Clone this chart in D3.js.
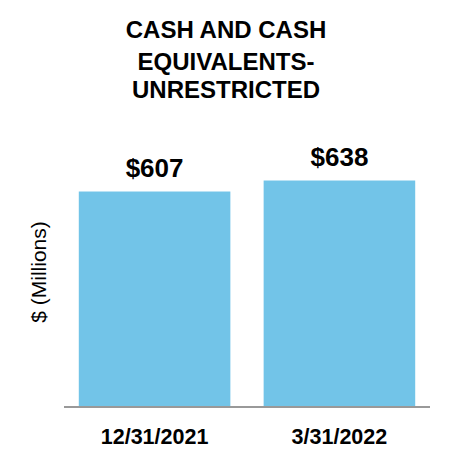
<!DOCTYPE html>
<html>
<head>
<meta charset="utf-8">
<script src="https://cdn.jsdelivr.net/npm/d3@7"></script>
<style>
  body { margin: 0; background: #fff; }
  text { font-family: "Liberation Sans", Arial, sans-serif; }
</style>
</head>
<body>
<svg id="chart" width="450" height="466"></svg>
<script>
const titleLines = ["CASH AND CASH", "EQUIVALENTS-", "UNRESTRICTED"];
const categories = ["12/31/2021", "3/31/2022"];
const values = [607, 638];
const valueLabels = ["$607", "$638"];
const yLabel = "$ (Millions)";

const svg = d3.select('#chart');

const plot = { left: 64, right: 430, top: 123, bottom: 407 };

const x = d3.scaleBand()
  .domain(categories)
  .range([plot.left, plot.right])
  .paddingInner(0.18)
  .paddingOuter(0.08);

const y = d3.scaleLinear()
  .domain([0, 800])
  .range([plot.bottom, plot.top]);

// title
svg.append('g').selectAll('text')
  .data(titleLines).enter()
  .append('text')
  .attr('x', 226)
  .attr('y', (d, i) => [38, 70, 98][i])
  .attr('text-anchor', 'middle')
  .attr('font-size', 24)
  .attr('font-weight', 'bold')
  .attr('fill', '#000')
  .text(d => d);

// bars
svg.append('g').selectAll('rect')
  .data(values).enter()
  .append('rect')
  .attr('x', (d, i) => x(categories[i]))
  .attr('width', x.bandwidth())
  .attr('y', d => y(d))
  .attr('height', d => plot.bottom - y(d))
  .attr('fill', '#72c4e8');

// value labels
svg.append('g').selectAll('text')
  .data(values).enter()
  .append('text')
  .attr('x', (d, i) => x(categories[i]) + x.bandwidth() / 2)
  .attr('y', d => y(d) - 15)
  .attr('text-anchor', 'middle')
  .attr('font-size', 26)
  .attr('font-weight', 'bold')
  .attr('fill', '#000')
  .text((d, i) => valueLabels[i]);

// x axis
const xAxis = svg.append('g')
  .attr('transform', `translate(0,${plot.bottom})`)
  .call(d3.axisBottom(x).tickSize(0).tickPadding(22));

xAxis.select('.domain')
  .attr('d', `M${plot.left},0H${plot.right}`)
  .attr('stroke', '#999')
  .attr('stroke-width', 2);

xAxis.selectAll('text')
  .attr('font-size', 21.5)
  .attr('font-weight', 'bold')
  .attr('fill', '#000')
  .attr('font-family', '"Liberation Sans", Arial, sans-serif');

// y label
svg.append('text')
  .attr('transform', 'translate(46,272) rotate(-90)')
  .attr('text-anchor', 'middle')
  .attr('font-size', 21)
  .attr('fill', '#000')
  .text(yLabel);
</script>
</body>
</html>
